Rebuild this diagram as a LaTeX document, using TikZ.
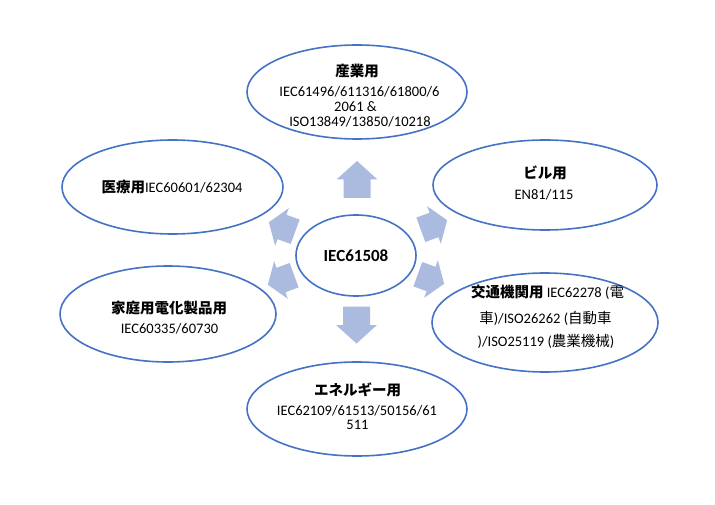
\documentclass[tikz,border=0pt]{standalone}
\usepackage{fontspec}
\setmainfont{Carlito}
\newfontfamily\jp{Noto Sans CJK JP}
\usetikzlibrary{shapes.geometric}
\definecolor{edgeblue}{HTML}{4472C4}
\definecolor{afill}{HTML}{ABBBE0}
\tikzset{
  ell/.style={ellipse, draw=edgeblue, line width=1.6pt, fill=white, inner sep=0pt},
  txt/.style={font=\fontsize{14.5}{14.5}\selectfont, inner sep=0pt, align=center, text=black},
  ttl/.style={font=\fontsize{14.5}{14.5}\selectfont\bfseries\jp, inner sep=0pt, text=black},
  varrow/.pic={\fill[afill] (-18.5,-13.5) -- (0,-13.5) -- (0,-20.5) -- (18.5,0) -- (0,20.5) -- (0,13.5) -- (-18.5,13.5) -- cycle;},
  darrow/.pic={\fill[afill] (-14,-13) -- (0,-13) -- (0,-20) -- (14,0) -- (0,20) -- (0,13) -- (-14,13) -- cycle;}
}
\begin{document}
\begin{tikzpicture}[x=1pt,y=-1pt]
\useasboundingbox[fill=white] (0,0) rectangle (715,505);
% arrows
\pic[rotate=90] at (357,179.5) {varrow};
\pic[rotate=-90] at (356.5,325) {varrow};
\pic[rotate=20] at (434,225) {darrow};
\pic[rotate=-20] at (431,279) {darrow};
\pic[rotate=160] at (282,227) {darrow};
\pic[rotate=200] at (281,280) {darrow};
% ellipses
\node[ell, minimum width=220pt, minimum height=94pt] (ind) at (357,92) {};
\node[ell, minimum width=224pt, minimum height=90pt] (bld) at (545,185) {};
\node[ell, minimum width=226pt, minimum height=99pt] (trn) at (545,322.5) {};
\node[ell, minimum width=220pt, minimum height=94pt] (eng) at (357,409) {};
\node[ell, minimum width=216pt, minimum height=96pt] (hom) at (168,314) {};
\node[ell, minimum width=221pt, minimum height=94pt] (med) at (172.5,187) {};
\node[ell, minimum width=120pt, minimum height=81pt] (ctr) at (356,255.5) {};
% texts
\node[font=\fontsize{17}{17}\selectfont\bfseries, inner sep=0pt] (ctrt) at (ctr) {IEC61508};
\node[ttl] (indt) at (357,71) {産業用};
\node[txt] (ind1) at (359.5,92) {IEC61496/611316/61800/6};
\node[txt] (ind2) at (355.5,107) {2061 \&};
\node[txt] (ind3) at (360,122) {ISO13849/13850/10218};
\node[ttl] (bldt) at (545,173) {ビル用};
\node[txt] (bld1) at (544,195) {EN81/115};
\node[txt] (trn1) at (547.5,292.7) {{\jp\bfseries 交通機関用} IEC62278 ({\jp 電}};
\node[txt] (trn2) at (545.5,318.3) {{\jp 車})/ISO26262 ({\jp 自動車}};
\node[txt] (trn3) at (546,341.7) {)/ISO25119 ({\jp 農業機械})};
\node[ttl] (engt) at (357.5,390) {エネルギー用};
\node[txt] (eng1) at (357,410.5) {IEC62109/61513/50156/61};
\node[txt] (eng2) at (357.5,424.5) {511};
\node[ttl] (homt) at (169,308.3) {家庭用電化製品用};
\node[txt] (hom1) at (169.5,328.3) {IEC60335/60730};
\node[txt] (medt) at (172,186.7) {{\jp\bfseries 医療用}IEC60601/62304};
\end{tikzpicture}
\end{document}
